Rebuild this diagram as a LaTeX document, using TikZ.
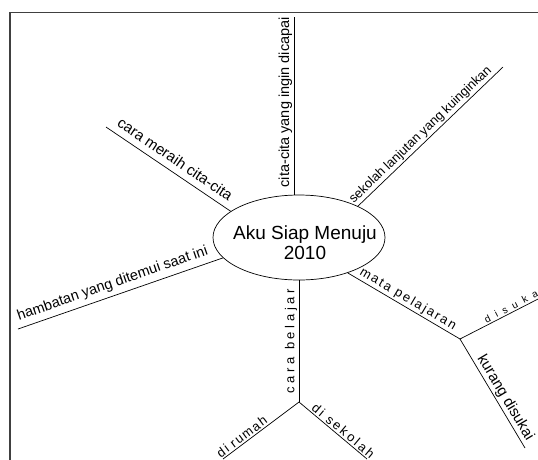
\documentclass[tikz,border=0pt]{standalone}
\usepackage{fontspec}
\setmainfont{Liberation Sans}
\usetikzlibrary{shapes.geometric}

\begin{document}
\begin{tikzpicture}[x=1pt, y=-1pt, line width=0.7pt,
        teks/.style={midway, sloped, above, inner sep=1.5pt},
        huruf/.style={font=\fontsize{#1}{#1}\selectfont},
        renggang/.style 2 args={font=\fontsize{#1}{#1}\selectfont\addfontfeature{LetterSpace=#2}}
    ]
        \clip (0,0) rectangle (538,459);
        % bingkai
        \draw[line width=1.2pt, black!75] (10,600) -- (10,12.5) -- (700,12.5);

        \node[draw, ellipse, minimum width=172pt, minimum height=85pt, inner sep=0pt] (aku) at (299,237.5) {};
        \node[huruf=19, align=center] (judul) at (305,243) {Aku Siap Menuju\\[1pt]2010};

        \coordinate (cita) at (294,17);
        \coordinate (lanjut) at (503,67);
        \coordinate (meraih) at (106,127);
        \coordinate (hambatan) at (18,329);
        \coordinate (mapel) at (460,339);
        \coordinate (suka) at (540,298);
        \coordinate (kurang) at (525,448);
        \coordinate (belajar) at (299,402);
        \coordinate (rumah) at (223,459);
        \coordinate (sekolah) at (367,459);

        \draw (aku.north -| cita) -- (cita) node[teks, pos=0.52, huruf=14.5] {cita-cita yang ingin dicapai};
        \draw (aku.28) -- (lanjut) node[teks, pos=0.47, huruf=13] {sekolah lanjutan yang kuinginkan};
        \draw (meraih) -- (aku.159) node[teks, above=5pt, huruf=15] {cara meraih cita-cita};
        \draw (hambatan) -- (aku.195) node[teks, pos=0.48, above=3pt, huruf=14.5] {hambatan yang ditemui saat ini};

        \draw (aku.324) -- (mapel) node[teks, renggang={13}{15}] {mata pelajaran};
        \draw (mapel) -- (suka) node[teks, pos=0.67, renggang={10}{60}] {disuka};
        \draw (mapel) -- (kurang) node[teks, pos=0.58, huruf=15] {kurang disukai};

        \draw (belajar) -- (aku.south) node[teks, renggang={13}{28}] {cara belajar};
        \draw (rumah) -- (belajar) node[teks, pos=0.3, renggang={13}{11}] {di rumah};
        \draw (belajar) -- (sekolah) node[teks, pos=0.59, renggang={13}{18}] {di sekolah};

\end{tikzpicture}
\end{document}
